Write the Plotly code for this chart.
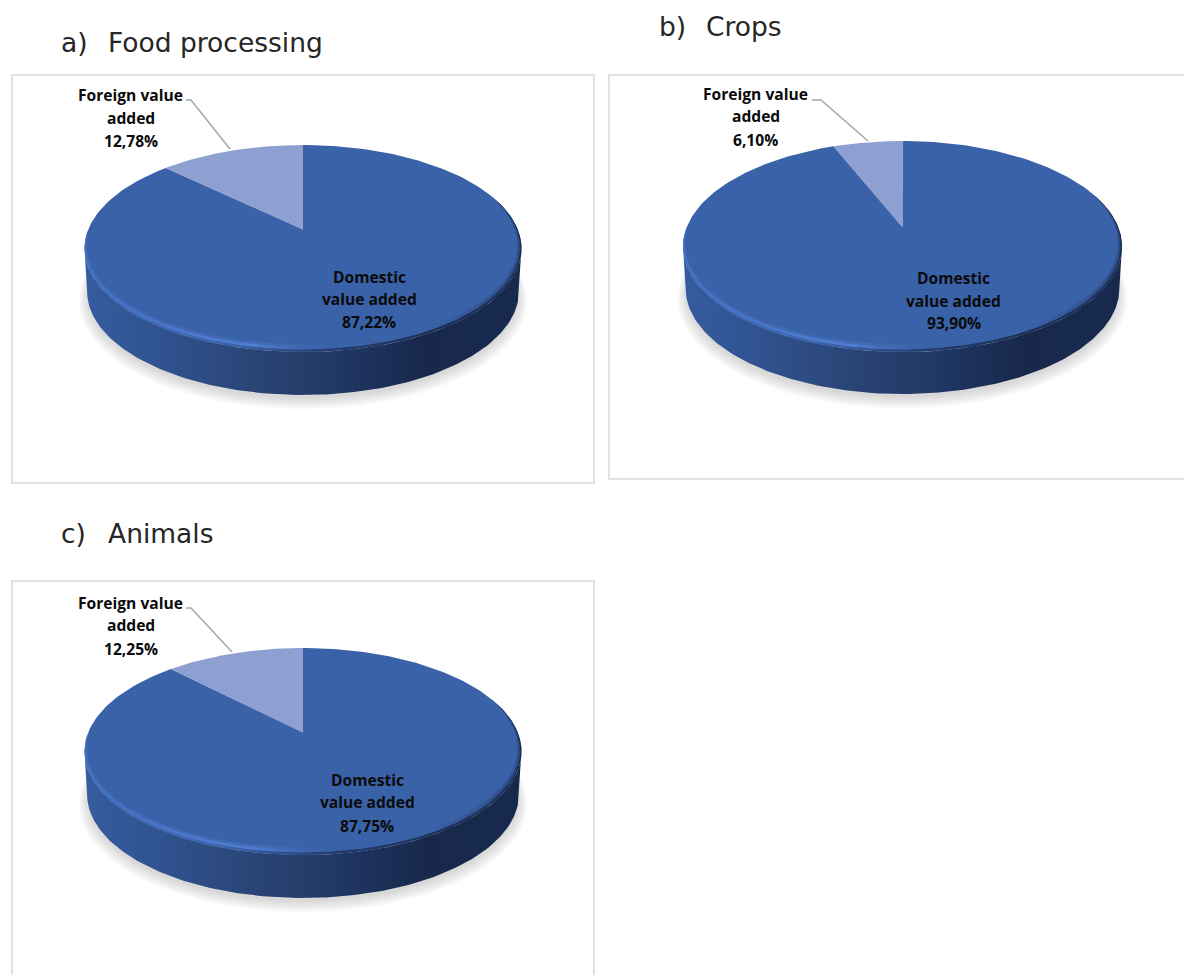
import numpy as np
import plotly.graph_objects as go

panel_titles = ["a)", "b)", "c)"]
sector_names = ["Food processing", "Crops", "Animals"]
foreign_share = [12.78, 6.10, 12.25]
domestic_share = [87.22, 93.90, 87.75]

W, H = 1184, 975
# layout of each panel, in page pixels
FRAMES = [(12, 75, 594, 483), (609, 75, 1190, 479), (12, 581, 594, 985)]
PIES = [  # centre x, y of top ellipse, rx, ry, wall height
    (303, 248.5, 218.5, 103.5, 43),
    (902.5, 246.5, 219.5, 105.5, 42),
    (303, 751.5, 218.5, 103.5, 43),
]
TITLE_POS = [(58.5, 43), (656.5, 27), (58.5, 533)]
NAME_POS = [(106, 43), (704, 27), (106, 533)]
FOREIGN_LABEL = [(130.5, [95, 118, 141]), (755.5, [94, 116, 140]), (130.5, [603, 625, 649])]
DOMESTIC_LABEL = [(369, [277, 299, 322]), (953.5, [278, 301, 323]), (367.5, [780, 802, 826])]
LEADERS = [
    [(186, 100), (191, 100), (230, 149)],
    [(812, 100), (821, 100), (868, 141)],
    [(186, 608), (191, 608), (232, 652)],
]
PERSPECTIVE = 0.183
TOP = "#3A62A9"
LIGHT = "#8E9FD1"
LABEL_FONT = "Open Sans"


def project(theta):
    """Unit circle angle (clockwise from 12 o'clock) to the tilted pie's top face."""
    x, y = np.sin(theta), np.cos(theta)
    c = PERSPECTIVE
    d = 1 + c * y
    return x * np.sqrt(1 - c * c) / d, (y + c) / d


def sector(a0, a1, n=240):
    th = np.linspace(a0, a1, n)
    x, y = project(th)
    return np.r_[0.0, x, 0.0], np.r_[PERSPECTIVE, y, PERSPECTIVE]


def poly(x, y, ax, color=None, grad=None, name=""):
    kw = dict(fillcolor=color) if color else dict(fillgradient=grad)
    return go.Scatter(x=x, y=y, mode="lines", fill="toself", line=dict(width=0),
                      xaxis=f"x{ax}", yaxis=f"y{ax}", hoverinfo="skip", showlegend=False,
                      name=name, **kw)


def rim_band(ax, rx, ry, inset0, inset1, stops, a0=-0.56, a1=0.66):
    """Tapered crescent round the front of the top face, inset0..inset1 pixels from its edge."""
    th = np.linspace(a0 * np.pi, a1 * np.pi, 240)
    taper = np.sin(np.pi * (th - th[0]) / (th[-1] - th[0])) ** 0.7
    sx, cy_ = np.sin(th), -np.cos(th)
    i0, i1 = inset0 * taper, inset1 * taper
    ox, oy = sx * (1 - i0 / rx), cy_ * (1 - i0 / ry)
    ix, iy = sx * (1 - i1 / rx), cy_ * (1 - i1 / ry)
    return poly(np.r_[ox, ix[::-1]], np.r_[oy, iy[::-1]], ax,
                grad=dict(type="horizontal", colorscale=stops))


fig = go.Figure()
layout = {}
shapes, ann = [], []


def px(x):
    return x / W


def py(y):
    return 1 - y / H


for i in range(3):
    ax = "" if i == 0 else str(i + 1)
    fx0, fy0, fx1, fy1 = FRAMES[i]
    cx, cy, rx, ry, wall = PIES[i]
    dx0, dx1 = px(fx0), min(1, px(fx1))
    dy0, dy1 = max(0, py(fy1)), py(fy0)
    layout[f"xaxis{ax}"] = dict(domain=[dx0, dx1], visible=False, fixedrange=True,
                                range=[(fx0 - cx) / rx, (min(fx1, W) - cx) / rx])
    layout[f"yaxis{ax}"] = dict(domain=[dy0, dy1], visible=False, fixedrange=True,
                                range=[(cy - min(fy1, H)) / ry, (cy - fy0) / ry])
    h = wall / ry

    t = np.linspace(0, 2 * np.pi, 240)
    # soft shadow under the disc
    for k in range(6):
        g = 1.0 + 0.008 * k
        fig.add_trace(poly(np.sin(t) * g * 0.985, np.cos(t) * g - h - 0.035 - 0.012 * k, ax,
                           color="rgba(120,120,120,0.05)"))

    # side wall with left-to-right shading
    lo = np.linspace(-np.pi / 2, np.pi / 2, 160)
    ex, ey = np.sin(lo), -np.cos(lo)
    sx = np.r_[ex, ex[::-1] * 0.988]
    sy = np.r_[ey, ey[::-1] - h]
    fig.add_trace(poly(sx, sy, ax, grad=dict(type="horizontal", colorscale=[
        [0, "#355CA0"], [0.18, "#30528F"], [0.4, "#294474"], [0.6, "#1F3662"],
        [0.78, "#17284B"], [1, "#172A4E"]])))

    # top face: domestic and foreign slices
    f = 2 * np.pi * foreign_share[i] / 100
    fig.add_trace(poly(*sector(0, 2 * np.pi * domestic_share[i] / 100), ax, color=TOP, name="Domestic value added"))
    fig.add_trace(poly(*sector(-f, 0, 80), ax, color=LIGHT, name="Foreign value added"))

    # soft bevel along the front rim: bright on the left, dark on the right
    fig.add_trace(rim_band(ax, rx, ry, 0, 8, [
        [0, "rgba(76,124,210,0.25)"], [0.42, "rgba(84,132,218,0.3)"], [0.58, "rgba(58,98,169,0)"],
        [0.78, "rgba(24,40,76,0)"], [1, "rgba(24,40,76,0.25)"]]))
    fig.add_trace(rim_band(ax, rx, ry, 1, 5.5, [
        [0, "rgba(70,118,202,0.7)"], [0.38, "rgba(84,132,218,0.75)"], [0.56, "rgba(58,98,169,0)"],
        [0.8, "rgba(24,40,76,0)"], [1, "rgba(24,40,76,0.3)"]]))
    fig.add_trace(rim_band(ax, rx, ry, 0, 2.5, [
        [0, "rgba(66,110,190,0.9)"], [0.3, "rgba(58,98,170,0.8)"], [0.55, "rgba(34,56,102,0.85)"],
        [0.8, "rgba(24,40,76,0.9)"], [1, "rgba(24,40,76,0.9)"]]))

    # frame
    shapes.append(dict(type="rect", xref="paper", yref="paper", layer="below",
                       x0=px(fx0), x1=px(fx1), y0=py(fy1), y1=py(fy0),
                       line=dict(color="#D9D9D9", width=1.5), fillcolor="white"))

    # leader line
    path = "M" + " L".join(f"{px(a):.5f},{py(b):.5f}" for a, b in LEADERS[i])
    shapes.append(dict(type="path", xref="paper", yref="paper", path=path,
                       line=dict(color="#A6A6A6", width=1.5)))

    # labels
    def line(x, y, s, size=15.6, color="#0B0B0B", family=LABEL_FONT, bold=True, anchor="center"):
        ann.append(dict(x=px(x), y=py(y), xref="paper", yref="paper", text=f"<b>{s}</b>" if bold else s,
                        showarrow=False, xanchor=anchor, yanchor="middle",
                        font=dict(size=size, color=color, family=family)))

    lx, lys = FOREIGN_LABEL[i]
    for s, y in zip(["Foreign value", "added", f"{foreign_share[i]:.2f}%".replace(".", ",")], lys):
        line(lx, y, s)
    lx, lys = DOMESTIC_LABEL[i]
    for s, y in zip(["Domestic", "value added", f"{domestic_share[i]:.2f}%".replace(".", ",")], lys):
        line(lx, y, s)

    tx, ty = TITLE_POS[i]
    line(tx, ty, panel_titles[i], size=26.5, color="#262626", family="DejaVu Sans", bold=False, anchor="left")
    nx, ny = NAME_POS[i]
    line(nx, ny, sector_names[i], size=26.5, color="#262626", family="DejaVu Sans", bold=False, anchor="left")

fig.update_layout(width=W, height=H, margin=dict(l=0, r=0, t=0, b=0), paper_bgcolor="white",
                  plot_bgcolor="rgba(0,0,0,0)", showlegend=False, shapes=shapes, annotations=ann, **layout)
fig.write_html("out.html", post_script="document.body.style.margin='0';document.body.style.overflow='hidden';",
               config={"displayModeBar": False})
